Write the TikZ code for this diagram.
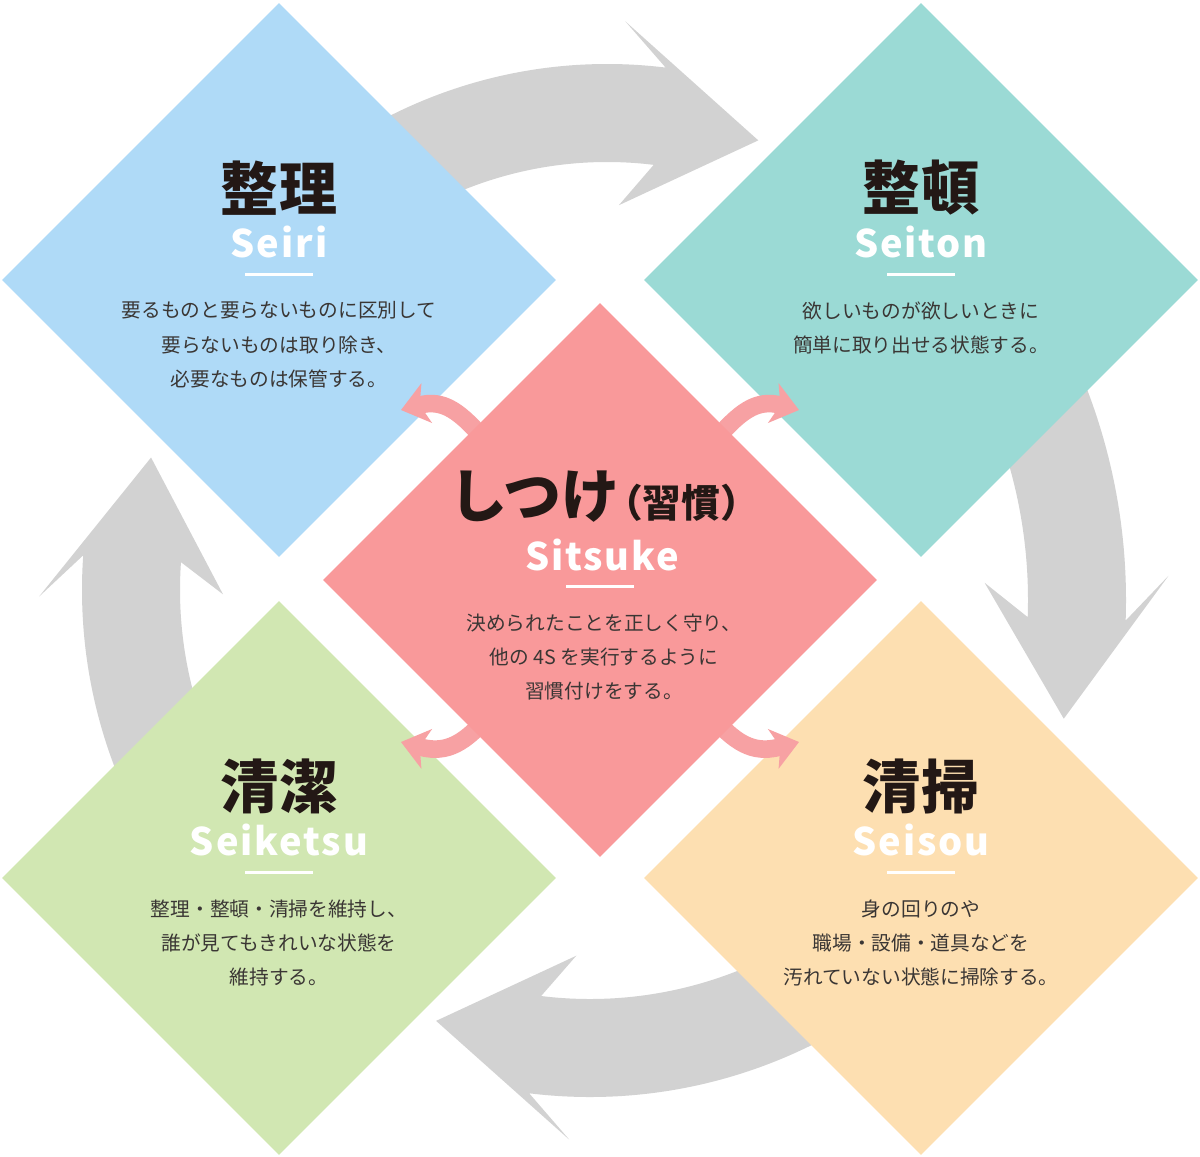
\documentclass[tikz,border=0pt]{standalone}
\usepackage{fontspec}
\setmainfont{Noto Sans CJK JP}
\newfontfamily\jpfont{Noto Sans CJK JP}
\newfontfamily\romafont[LetterSpace=5]{Noto Sans CJK JP}
\usepackage{tikz}
\usetikzlibrary{positioning, arrows.meta, shapes.geometric, calc}
\definecolor{sBlue}{HTML}{AFDAF7}
\definecolor{sTeal}{HTML}{9BDAD5}
\definecolor{sPink}{HTML}{F9999A}
\definecolor{sGreen}{HTML}{D1E7B2}
\definecolor{sOrange}{HTML}{FDDFB1}
\definecolor{sGray}{HTML}{D2D2D2}
\definecolor{sKick}{HTML}{F7A1A3}
\definecolor{sInk}{HTML}{231815}
\definecolor{sText}{HTML}{3A3634}
% grey cycle arrow: centre, mid radius, start, end, barb angle, tip angle
\newcommand{\cyclearrow}[6]{%
  \fill[sGray] ($(#1)+(#3:#2+49)$) arc[start angle=#3, end angle=#4, radius=#2+49]
    -- ($(#1)+(#5:#2+92)$) -- ($(#1)+(#6:#2)$) -- ($(#1)+(#5:#2-92)$)
    -- ($(#1)+(#4:#2-49)$) arc[start angle=#4, end angle=#3, radius=#2-49] -- cycle;}

\begin{document}
\begin{tikzpicture}[x=0.01cm, y=0.01cm,
  card/.style={diamond, aspect=1, minimum width=5.54cm, minimum height=5.54cm, inner sep=0pt},
  jpTitle/.style={font=\jpfont\bfseries\fontsize{16.5pt}{18pt}\selectfont, text=sInk, inner sep=0pt},
  romaji/.style={font=\romafont\bfseries\fontsize{10.8pt}{12pt}\selectfont, text=white, inner sep=0pt},
  bodyText/.style={font=\jpfont\fontsize{5.6pt}{9.75pt}\selectfont, text=sText, align=center, inner sep=0pt},
  underbar/.style={white, line width=0.85pt},
  kick/.style={sKick, line width=5pt, -{Stealth[length=7.5pt, width=11.5pt, inset=2pt]}}]
  \fill[white] (0,0) rectangle (1200,1156);
  \useasboundingbox (0,0) rectangle (1200,1156);

  % cycle
  \cyclearrow{607,611}{432}{125}{83}{88}{69.5}
  \cyclearrow{537,556}{540}{30}{-2}{2.2}{-12.7}
  \cyclearrow{590,558}{450}{-55}{-97}{-92.2}{-110}
  \cyclearrow{579,566}{448}{210}{176}{180.7}{162.8}

  % the five S
  \node[card, fill=sBlue] (seiri) at (279,876) {};
  \node[card, fill=sTeal] (seiton) at (921,876) {};
  \node[card, fill=sGreen] (seiketsu) at (279,278) {};
  \node[card, fill=sOrange] (seisou) at (921,278) {};

  \coordinate (ulFrom) at (488,712); \coordinate (ulTo) at (401,746);
  \coordinate (urFrom) at (712,712); \coordinate (urTo) at (799,746);
  \coordinate (llFrom) at (488,440); \coordinate (llTo) at (401,414);
  \coordinate (lrFrom) at (712,440); \coordinate (lrTo) at (799,414);
  \draw[kick] (ulFrom) to[out=130, in=15, looseness=1.2] (ulTo);
  \draw[kick] (urFrom) to[out=50, in=165, looseness=1.2] (urTo);
  \draw[kick] (llFrom) to[out=-130, in=-15, looseness=1.2] (llTo);
  \draw[kick] (lrFrom) to[out=-50, in=-165, looseness=1.2] (lrTo);

  \node[card, fill=sPink] (sitsuke) at (600,576) {};

  % texts
  \node[jpTitle] (seiriTitle) at ($(seiri)+(0,92)$) {整理};
  \node[romaji] (seiriRoma) at ($(seiri)+(0,38)$) {Seiri};
  \draw[underbar] ($(seiri)+(-34,6)$) -- ++(68,0);
  \node[bodyText] (seiriBody) at ($(seiri)+(0,-65)$) {要るものと要らないものに区別して\\要らないものは取り除き、\\必要なものは保管する。};

  \node[jpTitle] (seitonTitle) at ($(seiton)+(0,92)$) {整頓};
  \node[romaji] (seitonRoma) at ($(seiton)+(0,38)$) {Seiton};
  \draw[underbar] ($(seiton)+(-34,6)$) -- ++(68,0);
  \node[bodyText] (seitonBody) at ($(seiton)+(0,-48)$) {欲しいものが欲しいときに\\簡単に取り出せる状態する。};

  \node[jpTitle] (seiketsuTitle) at ($(seiketsu)+(0,92)$) {清潔};
  \node[romaji] (seiketsuRoma) at ($(seiketsu)+(0,38)$) {Seiketsu};
  \draw[underbar] ($(seiketsu)+(-34,6)$) -- ++(68,0);
  \node[bodyText] (seiketsuBody) at ($(seiketsu)+(0,-65)$) {整理・整頓・清掃を維持し、\\誰が見てもきれいな状態を\\維持する。};

  \node[jpTitle] (seisouTitle) at ($(seisou)+(0,92)$) {清掃};
  \node[romaji] (seisouRoma) at ($(seisou)+(0,38)$) {Seisou};
  \draw[underbar] ($(seisou)+(-34,6)$) -- ++(68,0);
  \node[bodyText] (seisouBody) at ($(seisou)+(0,-65)$) {身の回りのや\\職場・設備・道具などを\\汚れていない状態に掃除する。};

  \node[jpTitle] (sitsukeTitle) at ($(sitsuke)+(4,83)$) {しつけ{\fontsize{11pt}{12pt}\selectfont\kern-0.4em（習慣）}};
  \node[romaji] (sitsukeRoma) at ($(sitsuke)+(2,25)$) {Sitsuke};
  \draw[underbar] ($(sitsuke)+(-34,-6)$) -- ++(68,0);
  \node[bodyText] (sitsukeBody) at ($(sitsuke)+(4,-77)$) {決められたことを正しく守り、\\他の 4S を実行するように\\習慣付けをする。};
\end{tikzpicture}
\end{document}
